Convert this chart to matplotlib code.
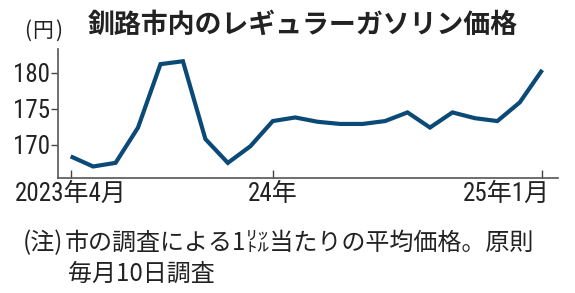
import matplotlib
matplotlib.use("Agg")
import matplotlib.pyplot as plt
from matplotlib.transforms import ScaledTranslation

# --------------------------------------------------------------------#
# Data: monthly regular gasoline price in Kushiro (yen / litre)
# --------------------------------------------------------------------#
MONTHS = [
    "2023-04", "2023-05", "2023-06", "2023-07", "2023-08", "2023-09",
    "2023-10", "2023-11", "2023-12", "2024-01", "2024-02", "2024-03",
    "2024-04", "2024-05", "2024-06", "2024-07", "2024-08", "2024-09",
    "2024-10", "2024-11", "2024-12", "2025-01",
]
PRICES = [
    168.4, 167.0, 167.5, 172.4, 181.2, 181.6,
    170.8, 167.5, 169.8, 173.3, 173.8, 173.2,
    172.9, 172.9, 173.3, 174.5, 172.4, 174.5,
    173.7, 173.3, 175.9, 180.4,
]
Y_TICKS = [170, 175, 180]
X_TICK_MONTHS = ["2023-04", "2024-01", "2025-01"]
X_TICK_LABELS = ["2023年4月", "24年", "25年1月"]

TITLE = "釧路市内のレギュラーガソリン価格"
UNIT_PARTS = ["(", "円", ")"]
NOTE_MARK = "(注)"
NOTE_1 = "市の調査による1㍑当たりの平均価格。原則"
NOTE_2 = "毎月10日調査"

LINE_COLOR = "#0b4a76"
TEXT_COLOR = "#222222"
NUM_FONT = ["Roboto Condensed", "Liberation Sans Narrow", "Noto Sans CJK JP",
            "DejaVu Sans"]
JP_FONT = ["Noto Sans CJK JP", "DejaVu Sans"]

# --------------------------------------------------------------------#
# Figure
# --------------------------------------------------------------------#
fig = plt.figure(figsize=(5.75, 2.93), dpi=100)
ax = fig.add_axes([58.3 / 575, 1 - 178 / 293, (558 - 58.3) / 575, (178 - 49) / 293])

x = list(range(len(MONTHS)))
ax.plot(x, PRICES, color=LINE_COLOR, linewidth=3.0, solid_joinstyle="miter",
        solid_capstyle="butt")

ax.set_xlim(-0.55, 21.7)
ax.set_ylim(165.4, 183.3)

ax.set_yticks(Y_TICKS)
ax.set_yticklabels([str(v) for v in Y_TICKS], family=NUM_FONT, fontsize=18,
                   color=TEXT_COLOR)
ax.set_xticks([MONTHS.index(m) for m in X_TICK_MONTHS])
ax.set_xticklabels(X_TICK_LABELS, family=NUM_FONT, fontsize=18, color=TEXT_COLOR)

ax.tick_params(axis="y", direction="out", length=5, width=1.0, color="#444444",
               pad=1)
ax.tick_params(axis="x", direction="in", length=6, width=1.0, color="#444444",
               pad=3)

# last x label sits left of its tick, ending just past it
last = ax.get_xticklabels()[-1]
last.set_horizontalalignment("right")
last.set_transform(last.get_transform()
                   + ScaledTranslation(8 / 100, 0, fig.dpi_scale_trans))

for side in ["top", "right"]:
    ax.spines[side].set_visible(False)
for side in ["left", "bottom"]:
    ax.spines[side].set_color("#555555")
    ax.spines[side].set_linewidth(1.2)

# Title & unit
fig.text(88 / 575, 1 - 25 / 293, TITLE, family=JP_FONT, fontsize=19.4,
         fontweight="bold", color=TEXT_COLOR, ha="left", va="center")
for part, px in zip(UNIT_PARTS, [28, 43, 59]):
    fig.text(px / 575, 1 - 31 / 293, part, family=JP_FONT, fontsize=15,
             color=TEXT_COLOR, ha="center", va="center")

# Notes
fig.text(23 / 575, 1 - 243 / 293, NOTE_MARK, family=JP_FONT, fontsize=17.3,
         color=TEXT_COLOR, ha="left", va="center")
fig.text(65 / 575, 1 - 243 / 293, NOTE_1, family=JP_FONT, fontsize=17.3,
         color=TEXT_COLOR, ha="left", va="center")
fig.text(68 / 575, 1 - 274 / 293, NOTE_2, family=JP_FONT, fontsize=17.3,
         color=TEXT_COLOR, ha="left", va="center")

fig.savefig("out.png", dpi=100)
